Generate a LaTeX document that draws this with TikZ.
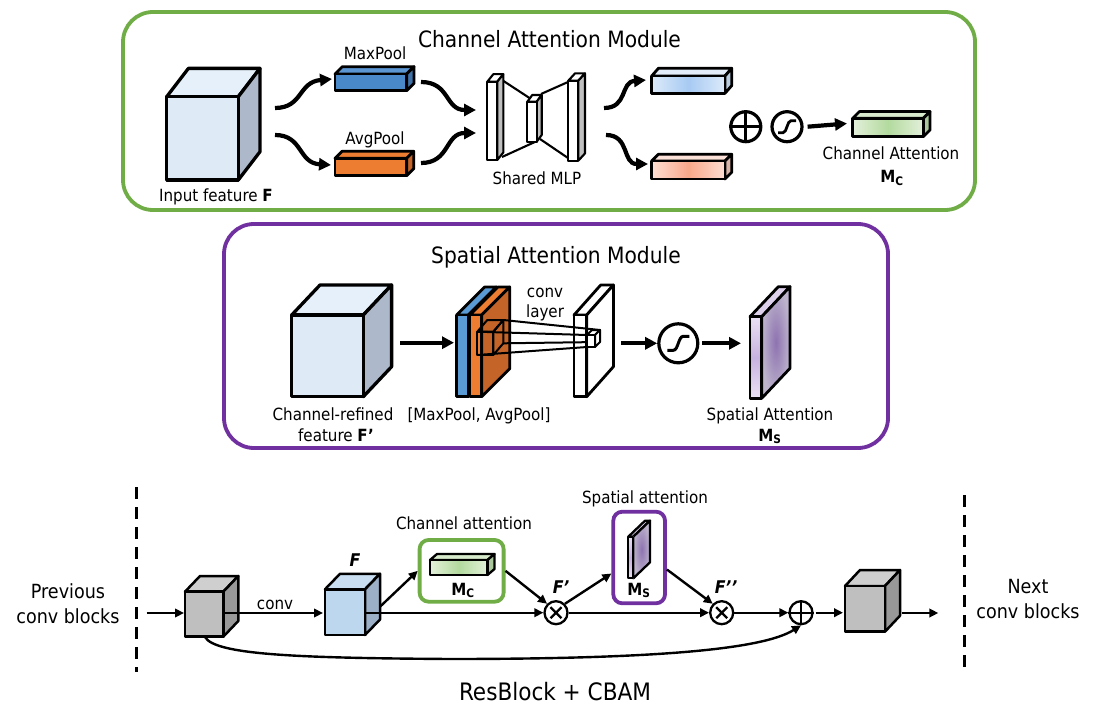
\documentclass[tikz,border=0pt]{standalone}
\usepackage{fontspec}
\setmainfont{DejaVu Sans Condensed}
\usetikzlibrary{arrows.meta}
\definecolor{cgreen}{HTML}{70AD47}
\definecolor{cpurple}{HTML}{7030A0}
\definecolor{cfront}{HTML}{DEEBF7}
\definecolor{ctop}{HTML}{E6F0FA}
\definecolor{cside}{HTML}{ADB9CA}
\definecolor{mpblue}{HTML}{4A89C9}
\definecolor{mpbluetop}{HTML}{5B96D3}
\definecolor{mpblueside}{HTML}{3F72A8}
\definecolor{aporange}{HTML}{ED7D31}
\definecolor{aporangeside}{HTML}{C46428}
\definecolor{spblue}{HTML}{5B9BD5}
\definecolor{mlpgray}{HTML}{BFBFBF}
\definecolor{lbedge}{HTML}{DCEAF9}
\definecolor{lbmid}{HTML}{A7CAF3}
\definecolor{lbtop}{HTML}{E2EDF9}
\definecolor{lbside}{HTML}{B8CCE0}
\definecolor{saedge}{HTML}{FCDDD3}
\definecolor{samid}{HTML}{F9A88A}
\definecolor{satop}{HTML}{FBE1D8}
\definecolor{saside}{HTML}{D8B3A8}
\definecolor{gredge}{HTML}{E3F0DA}
\definecolor{grmid}{HTML}{B3DA9E}
\definecolor{grtop}{HTML}{D7EACB}
\definecolor{grside}{HTML}{A9C79A}
\definecolor{puinner}{HTML}{8E73B0}
\definecolor{puouter}{HTML}{BDB4CC}
\definecolor{pufront1}{HTML}{EAE1F4}
\definecolor{pufront2}{HTML}{C7B2DF}
\definecolor{putop}{HTML}{DCD0EA}
\definecolor{gfront}{HTML}{BFBFBF}
\definecolor{gtop}{HTML}{CFCFCF}
\definecolor{gside}{HTML}{989898}
\definecolor{bfront}{HTML}{BDD7EE}
\definecolor{btop}{HTML}{C9DEF1}
\definecolor{bside}{HTML}{9BB0C6}
% prism: x, y (top-left of front face), w, h, dx, dy(up), front, top, side styles
\newcommand\prism[9]{%
  \path[draw,line join=round,#8] (#1,#2) -- (#1+#5,#2-#6) -- (#1+#3+#5,#2-#6) -- (#1+#3,#2) -- cycle;
  \path[draw,line join=round,#9] (#1+#3,#2) -- (#1+#3+#5,#2-#6) -- (#1+#3+#5,#2+#4-#6) -- (#1+#3,#2+#4) -- cycle;
  \path[draw,line join=round,#7] (#1,#2) rectangle (#1+#3,#2+#4);
}
\begin{document}
\begin{tikzpicture}[x=1pt,y=-1pt,
  lbl/.style={inner sep=0pt,anchor=base},
  f16/.style={font=\fontsize{16.8}{20}\selectfont},
  f18/.style={font=\fontsize{19.5}{23}\selectfont},
  f22/.style={font=\fontsize{22.5}{26}\selectfont},
  fbi/.style={font=\fontsize{17.5}{20}\selectfont\bfseries\itshape},
  bigarrow/.style={line width=4.2pt,-{Triangle[length=12pt,width=12pt]}},
  smallarrow/.style={line width=2.4pt,-{Triangle[length=9pt,width=8.5pt]}},
  opbig/.style={circle,draw,line width=3.2pt,inner sep=0pt,minimum size=30pt},
  opsmall/.style={circle,draw,line width=2.3pt,inner sep=0pt,minimum size=23pt},
  modbox/.style={line width=3.8pt,rounded corners=30pt,inner sep=0pt},
  minibox/.style={line width=3.8pt,rounded corners=9pt,inner sep=0pt},
  dashv/.style={line width=3pt,dash pattern=on 12pt off 8pt}]
\useasboundingbox (0,0) rectangle (1102,727);

% ================= Channel attention module =================
\node[modbox,draw=cgreen,minimum width=852pt,minimum height=198pt] (cam) at (549,111) {};
\node[lbl,f22] (camtitle) at (549.5,48) {Channel Attention Module};

\begin{scope}[line width=3.3pt]
\prism{166.7}{96.7}{71.6}{83.3}{21.7}{28.3}{fill=cfront}{fill=ctop}{fill=cside}
\end{scope}
\node[lbl,f16] (tinput) at (216,202) {Input feature \textbf{F}};
\coordinate (incubeA) at (275,108);
\coordinate (incubeB) at (275,135);

\begin{scope}[line width=2.8pt]
\prism{335}{74}{71.7}{16.7}{7.3}{7.3}{fill=mpblue}{fill=mpbluetop}{fill=mpblueside}
\prism{335}{158.3}{71.7}{17.4}{7}{7}{fill=aporange}{fill=aporange}{fill=aporangeside}
\end{scope}
\node[lbl,f16] (tmaxpool) at (375,60) {MaxPool};
\node[lbl,f16] (tavgpool) at (375,145) {AvgPool};
\coordinate (mpin) at (332,79);
\coordinate (mpout) at (421,82);
\coordinate (apin) at (331,165);
\coordinate (apout) at (421,163);

% shared MLP
\begin{scope}[line width=2.1pt]
\draw (502,80) -- (531,99);
\draw (502,157) -- (537,141);
\draw (541,94) -- (568,82);
\draw (540,139) -- (568,158);
\prism{487.3}{81.7}{10}{78.3}{6}{7.5}{fill=white}{fill=white}{fill=mlpgray}
\prism{527.3}{101.7}{9.4}{40}{5}{6.7}{fill=white}{fill=white}{fill=mlpgray}
\prism{568.3}{80.7}{10}{80}{6.7}{7.3}{fill=white}{fill=white}{fill=mlpgray}
\end{scope}
\node[lbl,f16] (tmlp) at (537,185) {Shared MLP};
\coordinate (mlpinA) at (476,110);
\coordinate (mlpinB) at (476,133);
\coordinate (mlpoutA) at (604,108);
\coordinate (mlpoutB) at (606,135);

\begin{scope}[line width=2.8pt]
\prism{651.7}{76}{73.3}{17.3}{6.7}{7.7}{left color=lbedge,right color=lbedge,middle color=lbmid}{fill=lbtop}{fill=lbside}
\prism{651.7}{161}{73.3}{18}{6.7}{6.7}{left color=saedge,right color=saedge,middle color=samid}{fill=satop}{fill=saside}
\prism{852.7}{118.3}{70.6}{18.4}{6.7}{6.7}{left color=gredge,right color=gredge,middle color=grmid}{fill=grtop}{fill=grside}
\end{scope}
\coordinate (bbin) at (646,80);
\coordinate (sbin) at (648,164);
\coordinate (gbin) at (847,123.5);
\node[lbl,f16] (tca) at (891,160) {Channel Attention};
\node[lbl,f16] (tmc) at (892,183) {\textbf{M\textsubscript{C}}};

\node[opbig] (cplus) at (745.8,126.7) {};
\draw[line width=3.2pt] (cplus.north) -- (cplus.south) (cplus.west) -- (cplus.east);
\node[opbig] (csig) at (787,126.7) {};
\draw[line width=2.8pt,shift={(csig.center)}] (-9,6) -- (-4,6) .. controls (0,6) and (0,-6) .. (4,-6) -- (9,-6);

\draw[bigarrow] (incubeA) .. controls (303,108) and (298,82) .. (mpin);
\draw[bigarrow] (incubeB) .. controls (303,135) and (298,163) .. (apin);
\draw[bigarrow] (mpout) .. controls (450,82) and (445,110) .. (mlpinA);
\draw[bigarrow] (apout) .. controls (450,163) and (445,133) .. (mlpinB);
\draw[bigarrow] (mlpoutA) .. controls (628,108) and (620,82) .. (bbin);
\draw[bigarrow] (mlpoutB) .. controls (630,135) and (622,164) .. (sbin);
\draw[bigarrow] (csig.east) ++(4,0) coordinate (csigr) (csigr) -- (gbin);

% ================= Spatial attention module =================
\node[modbox,draw=cpurple,minimum width=664pt,minimum height=224pt] (sam) at (556,336) {};
\node[lbl,f22] (samtitle) at (556,263) {Spatial Attention Module};

\begin{scope}[line width=3.3pt]
\prism{291.7}{315}{71.6}{81.7}{28.3}{30}{fill=cfront}{fill=ctop}{fill=cside}
\end{scope}
\coordinate (sfcube) at (400,342.7);
\coordinate (poolin) at (454,342.7);
\draw[bigarrow] (sfcube) -- (poolin);
\node[lbl,f16] (tcr1) at (333,420) {Channel-refined};
\node[lbl,f16] (tcr2) at (336,441) {feature \textbf{F’}};

\begin{scope}[line width=2.8pt]
\prism{456.7}{315}{11.6}{81.7}{28}{28}{fill=spblue}{fill=spblue}{fill=spblue}
\prism{470}{315}{11.7}{81.7}{28}{28}{fill=aporange}{fill=aporange}{fill=aporangeside}
\prism{574}{315}{12.7}{81.7}{26.7}{30}{fill=white}{fill=white}{fill=white}
\end{scope}
\begin{scope}[line width=2pt]
\prism{477.3}{331.7}{16}{23.3}{10}{11.7}{}{}{}
\draw (503.3,320) -- (600,330);
\draw (477.3,331.7) -- (587,335);
\draw (477.3,355) -- (587,347);
\draw (503.3,343.3) -- (600,342);
\prism{587}{335}{8}{12}{5}{5}{fill=white}{fill=white}{fill=white}
\end{scope}
\node[lbl,f16] (tpools) at (479,420) {[MaxPool, AvgPool]};
\node[lbl,f16] (tconv1) at (545,297) {conv};
\node[lbl,f16] (tconv2) at (545,317) {layer};

\coordinate (convout) at (621,343.3);
\node[opbig,minimum size=39pt] (ssig) at (678.3,343.3) {};
\draw[line width=3pt,shift={(ssig.center)}] (-11,7) -- (-5,7) .. controls (0,7) and (0,-7) .. (5,-7) -- (11,-7);
\draw[bigarrow] (convout) -- (ssig.west);
\coordinate (psin) at (741,343.3);
\draw[bigarrow] (ssig.east) ++(3,0) coordinate (ssigr) (ssigr) -- (psin);

\begin{scope}[line width=2.8pt]
\prism{750}{316.7}{11.7}{81.6}{28.3}{30}{top color=pufront1,bottom color=pufront1,middle color=pufront2}{fill=putop}{inner color=puinner,outer color=puouter}
\end{scope}
\node[lbl,f16] (tsa) at (770,420) {Spatial Attention};
\node[lbl,f16] (tms) at (770,441) {\textbf{M\textsubscript{S}}};

% ================= ResBlock + CBAM =================
\coordinate (dl1) at (136.5,487);
\coordinate (dl2) at (136.5,672);
\coordinate (dr1) at (964,495);
\coordinate (dr2) at (964,672);
\draw[dashv] (dl1) -- (dl2);
\draw[dashv] (dr1) -- (dr2);

\node[lbl,f18] (tprev1) at (68,598) {Previous};
\node[lbl,f18] (tprev2) at (68,623) {conv blocks};
\node[lbl,f18] (tnext1) at (1028,593) {Next};
\node[lbl,f18] (tnext2) at (1028,618) {conv blocks};

\begin{scope}[line width=2.5pt]
\prism{185}{591.7}{38.3}{45}{15}{15.7}{fill=gfront}{fill=gtop}{fill=gside}
\prism{325}{589.3}{40}{45.7}{15}{15.5}{fill=bfront}{fill=btop}{fill=bside}
\prism{845}{586}{40}{45.7}{15}{16}{fill=gfront}{fill=gtop}{fill=gside}
\end{scope}
\coordinate (prevend) at (146.7,613);
\coordinate (g1in) at (184,613);
\coordinate (g1out) at (223.3,613);
\coordinate (g1bot) at (205,637);
\coordinate (fcin) at (323,613);
\coordinate (fcout) at (365,612.7);
\coordinate (fcside) at (380,606.7);
\coordinate (g2in) at (843,612.7);
\coordinate (g2out) at (901.7,613);
\coordinate (nextend) at (938.3,613);

\node[lbl,f16] (tconvb) at (275,609) {conv};
\node[lbl,fbi] (tF) at (355,566.7) {F};

\node[minibox,draw=cgreen,minimum width=84pt,minimum height=61.7pt] (cabox) at (461.6,570.85) {};
\begin{scope}[line width=2.3pt]
\prism{430}{560}{57.5}{15}{7}{6}{left color=gredge,right color=gredge,middle color=grmid}{fill=grtop}{fill=grside}
\end{scope}
\node[lbl,f16] (tmcb) at (463,595) {\textbf{M\textsubscript{C}}};
\node[lbl,f16] (tcab) at (464,529) {Channel attention};

\node[minibox,draw=cpurple,minimum width=51.7pt,minimum height=91.6pt] (pabox) at (639.15,557.5) {};
\begin{scope}[line width=2.3pt]
\prism{628.3}{536.7}{5}{41.6}{16.7}{16}{top color=pufront1,bottom color=pufront1,middle color=pufront2}{fill=putop}{inner color=puinner,outer color=puouter}
\end{scope}
\node[lbl,f16] (tmsb) at (639,595) {\textbf{M\textsubscript{S}}};
\node[lbl,f16] (tsab) at (645,503) {Spatial attention};

\node[opsmall] (m1) at (556,612.7) {};
\draw[line width=2.3pt,shift={(m1.center)}] (-5.5,-5.5) -- (5.5,5.5) (-5.5,5.5) -- (5.5,-5.5);
\node[opsmall] (m2) at (721.7,612.7) {};
\draw[line width=2.3pt,shift={(m2.center)}] (-5.5,-5.5) -- (5.5,5.5) (-5.5,5.5) -- (5.5,-5.5);
\node[opsmall] (p1) at (801,612.7) {};
\draw[line width=2.3pt] (p1.north) -- (p1.south) (p1.west) -- (p1.east);
\node[lbl,fbi] (tF1) at (561,593) {F’};
\node[lbl,fbi] (tF2) at (726,593) {F’’};

\draw[smallarrow] (prevend) -- (g1in);
\draw[smallarrow] (g1out) -- (fcin);
\draw[smallarrow] (fcout) -- (m1.west);
\draw[smallarrow] (fcside) -- (cabox.west);
\draw[smallarrow] (cabox.east) -- (m1.north west);
\draw[smallarrow] (m1.north east) -- ([yshift=-16pt]pabox.west);
\draw[smallarrow] ([yshift=-12pt]pabox.east) -- (m2.north west);
\draw[smallarrow] (m1.east) -- (m2.west);
\draw[smallarrow] (m2.east) -- (p1.west);
\draw[smallarrow] (p1.east) ++(2,0) coordinate (p1r) (p1r) -- (g2in);
\draw[smallarrow] (g2out) -- (nextend);
\draw[smallarrow] (g1bot) .. controls (215,655) and (300,658) .. (450,659) .. controls (650,659) and (762,650) .. (p1.south);

\node[lbl,font=\fontsize{24}{28}\selectfont] (tres) at (555,700) {ResBlock + CBAM};
\end{tikzpicture}
\end{document}
